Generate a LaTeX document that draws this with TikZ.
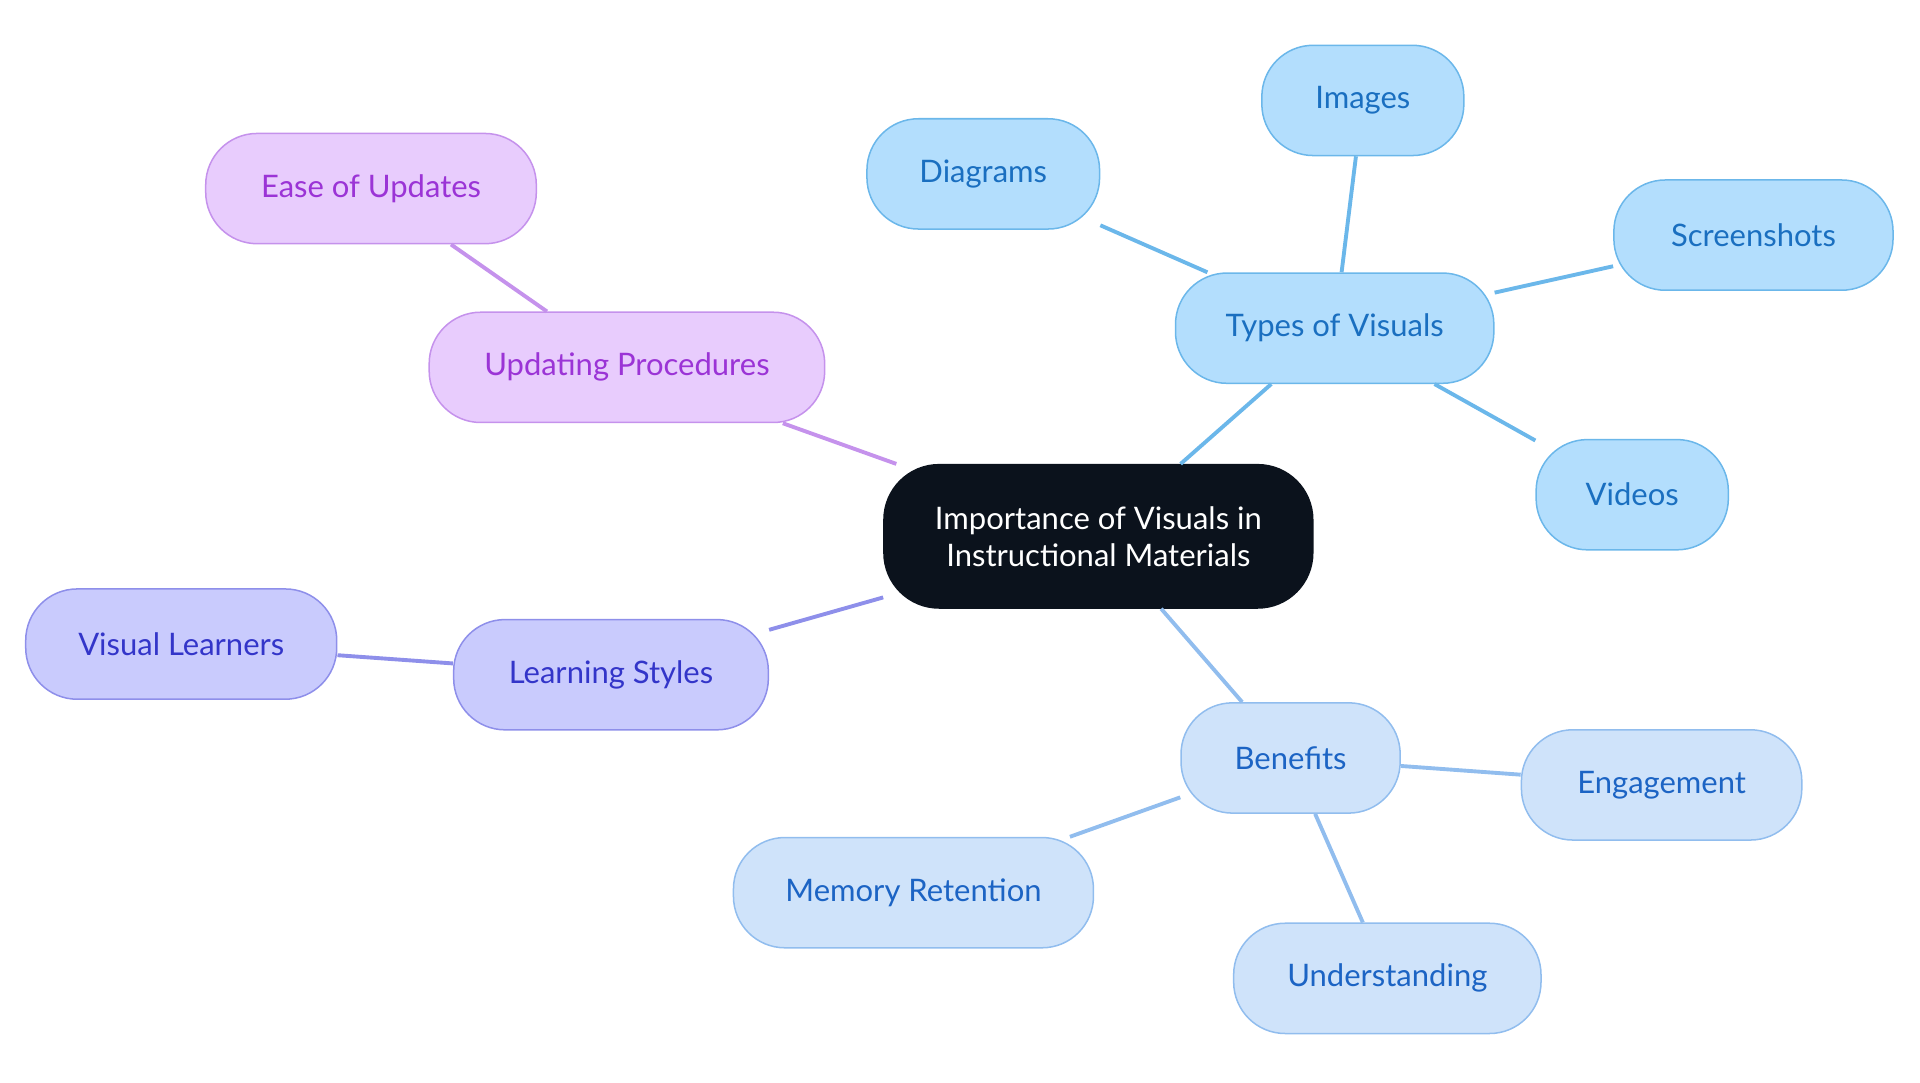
\documentclass[tikz,border=0pt]{standalone}
\usepackage{fontspec}
\setmainfont{Lato}
\begin{document}
\definecolor{cbg}{HTML}{0B121C}
\definecolor{tf}{HTML}{B3DEFD}\definecolor{tb}{HTML}{6BB7EA}\definecolor{tt}{HTML}{1A6FC0}
\definecolor{pf}{HTML}{E8CCFD}\definecolor{pb}{HTML}{C592EC}\definecolor{pt}{HTML}{9B34D6}
\definecolor{lf}{HTML}{C9CBFD}\definecolor{lb}{HTML}{8E8FEA}\definecolor{lt}{HTML}{3335C9}
\definecolor{bf}{HTML}{CFE3FA}\definecolor{bb}{HTML}{91BDEE}\definecolor{bt}{HTML}{1C64C4}
\begin{tikzpicture}[x=0.01cm,y=-0.01cm,
 every node/.style={font=\fontsize{7.2pt}{8.6pt}\selectfont,align=center,inner sep=0pt,rounded corners=0.42cm,line width=0.35pt},
 box/.style n args={2}{draw=#1,minimum width=#2*0.01cm,minimum height=0.9cm},
 T/.style={box={tb}{#1},fill=tf,text=tt},
 P/.style={box={pb}{#1},fill=pf,text=pt},
 L/.style={box={lb}{#1},fill=lf,text=lt},
 B/.style={box={bb}{#1},fill=bf,text=bt},
 e/.style={draw=#1,line width=0.9pt}]
\useasboundingbox (0,0) rectangle (1568,884);
\node[draw=cbg,fill=cbg,text=white,minimum width=3.5cm,minimum height=1.17cm,rounded corners=0.45cm] (c) at (897,438) {Importance of Visuals in\\Instructional Materials};
\node[T=260] (tv) at (1090,268) {Types of Visuals};
\node[T=190] (di) at (803,142) {Diagrams};
\node[T=165] (im) at (1113,82) {Images};
\node[T=228] (sc) at (1432,192) {Screenshots};
\node[T=157] (vi) at (1333,404) {Videos};
\node[P=323] (up) at (512,300) {Updating Procedures};
\node[P=270] (eu) at (303,154) {Ease of Updates};
\node[L=257] (ls) at (499,551) {Learning Styles};
\node[L=254] (vl) at (148,526) {Visual Learners};
\node[B=179] (be) at (1054,619) {Benefits};
\node[B=229] (en) at (1357,641) {Engagement};
\node[B=294] (mr) at (746,729) {Memory Retention};
\node[B=251] (un) at (1133,799) {Understanding};
\begin{scope}[on background layer/.try]
\end{scope}
\begin{pgfonlayer}{main}\end{pgfonlayer}
\draw[e=tb] (c) -- (tv);
\draw[e=tb] (tv) -- (di); \draw[e=tb] (tv) -- (im); \draw[e=tb] (tv) -- (sc); \draw[e=tb] (tv) -- (vi);
\draw[e=pb] (c) -- (up); \draw[e=pb] (up) -- (eu);
\draw[e=lb] (c) -- (ls); \draw[e=lb] (ls) -- (vl);
\draw[e=bb] (c) -- (be); \draw[e=bb] (be) -- (en); \draw[e=bb] (be) -- (mr); \draw[e=bb] (be) -- (un);
\end{tikzpicture}
\end{document}
